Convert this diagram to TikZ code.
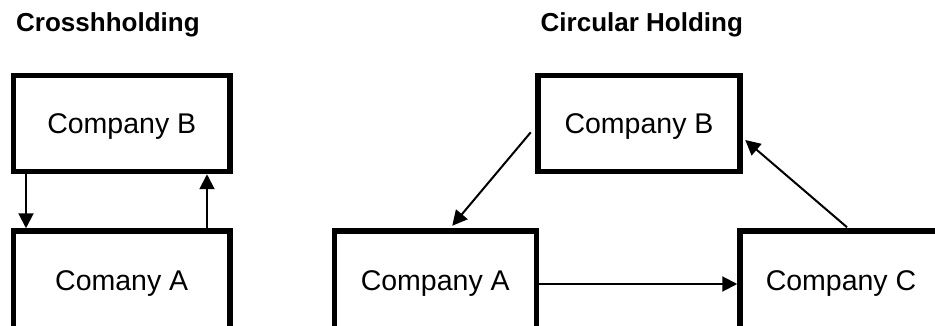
\documentclass[tikz,border=0pt]{standalone}
\usepackage{fontspec}
\setmainfont{Liberation Sans}
\usetikzlibrary{arrows.meta}
\begin{document}
\begin{tikzpicture}[x=1pt,y=-1pt,
  company/.style={draw, rectangle, line width=5.5pt, minimum height=96pt,
    inner sep=0pt, text height=21pt, text depth=0pt,
    font=\fontsize{28.5}{34}\selectfont},
  lower/.style={minimum height=110pt, text depth=13pt},
  widebox/.style={company, minimum width=216.5pt},
  narrowbox/.style={company, minimum width=202pt},
  heading/.style={anchor=base west, inner sep=0pt,
    font=\bfseries\fontsize{26}{31}\selectfont},
  link/.style={-{Triangle[length=15pt,width=15pt]}, line width=2pt}]
\clip (0,0) rectangle (935,326);
\fill[white] (0,0) rectangle (935,326);

% headings
\node[heading] (t1) at (16,31.5) {Crosshholding};
\node[heading] (t2) at (540.5,31.5) {Circular Holding};

% cross holding
\node[widebox] (lB) at (121.75,123.5) {Company B};
\node[widebox, lower] (lA) at (121.75,286) {Comany A};
\draw[link] ([xshift=15.25pt]lB.south west) -- ([xshift=15.25pt]lA.north west);
\draw[link] ([xshift=-25.75pt]lA.north east) -- ([xshift=-25.75pt]lB.south east);

% circular holding
\node[narrowbox] (rB) at (639,123.5) {Company B};
\node[narrowbox, lower] (rA) at (435.25,286) {Company A};
\node[narrowbox, lower] (rC) at (841,286) {Company C};
\draw[link] ([xshift=-4.5pt,yshift=-8.8pt]rB.west) -- ([xshift=17pt,yshift=2.5pt]rA.north);
\draw[link] ([yshift=2pt]rA.east) -- ([yshift=2pt]rC.west);
\draw[link] ([xshift=6pt,yshift=1pt]rC.north) -- ([xshift=2.5pt,yshift=-16.5pt]rB.east);
\end{tikzpicture}
\end{document}
